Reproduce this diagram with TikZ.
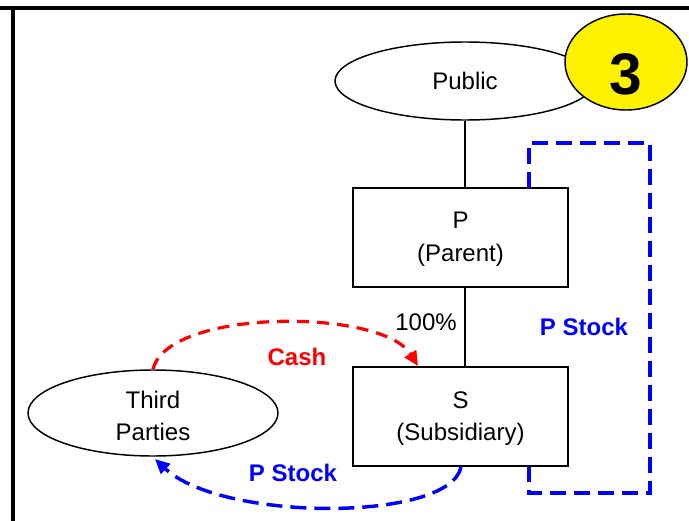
\documentclass[tikz,border=0pt]{standalone}
\usepackage{fontspec}
\setmainfont{Liberation Sans}
\usetikzlibrary{shapes.geometric,arrows.meta}
\begin{document}
\begin{tikzpicture}[x=0.75pt,y=-0.75pt,
  every node/.style={font=\fontsize{18}{21}\selectfont, align=center},
  oval/.style={ellipse, draw, line width=1.1pt, inner sep=0pt},
  entity/.style={rectangle, draw, line width=1.1pt, minimum width=215*0.75pt, minimum height=99*0.75pt, inner sep=0pt},
  link/.style={line width=1.1pt},
  frame/.style={line width=2.3pt},
  bluedash/.style={draw=blue, line width=2.6pt, dash pattern=on 12pt off 6pt},
  reddash/.style={draw=red, line width=2.4pt, dash pattern=on 9pt off 6pt},
  tip/.style={-{Triangle[length=11pt,width=10pt]}},
  bluelabel/.style={text=blue, font=\fontsize{18}{21}\selectfont\bfseries},
  redlabel/.style={text=red, font=\fontsize{18}{21}\selectfont\bfseries}]
\useasboundingbox (0,0) rectangle (689,521);
% frame
\draw[frame] (0,8) -- (689,8);
\draw[frame] (13,8) -- (13,521);
% nodes
\node[oval, minimum width=260*0.75pt, minimum height=78*0.75pt] (pub) at (465,81) {Public};
\node[oval, fill=yellow, minimum width=122*0.75pt, minimum height=96*0.75pt] (num) at (626,62) {};
\node[font=\fontsize{44}{50}\selectfont\bfseries] (numtxt) at (626,74) {3};
\node[entity] (P) at (460.5,237.5) {};
\node (Ptxt) at (460.5,239.5) {P\\[3.5pt](Parent)};
\node[entity] (S) at (460.5,416.5) {};
\node (Stxt) at (460.5,418.5) {S\\[3.5pt](Subsidiary)};
\node[oval, minimum width=250*0.75pt, minimum height=86*0.75pt] (tp) at (153,413) {};
\node (tptxt) at (153,416) {Third\\[3.5pt]Parties};
% links
\draw[link] (pub.south) -- (P.north -| pub.south);
\draw[link] (P.south -| pub.south) -- (S.north -| pub.south);
\node (pct) at (426,322) {100\%};
% cash
\draw[reddash, tip, red] (tp.north) .. controls (168,308) and (382,308) .. (418,366);
\node[redlabel] (cash) at (297,357) {Cash};
% P stock bottom
\draw[bluedash, tip, blue] (461,467) .. controls (450,522) and (222,522) .. (155,459);
\node[bluelabel] (ps1) at (293,473) {P Stock};
% P stock loop
\coordinate (b1) at (529,188);
\coordinate (b2) at (529,143);
\coordinate (b3) at (650,143);
\coordinate (b4) at (650,493);
\coordinate (b5) at (529,493);
\coordinate (b6) at (529,467);
\draw[bluedash] (b1) -- (b2) -- (b3) -- (b4) -- (b5) -- (b6);
\node[bluelabel] (ps2) at (584,327) {P Stock};
\end{tikzpicture}
\end{document}
